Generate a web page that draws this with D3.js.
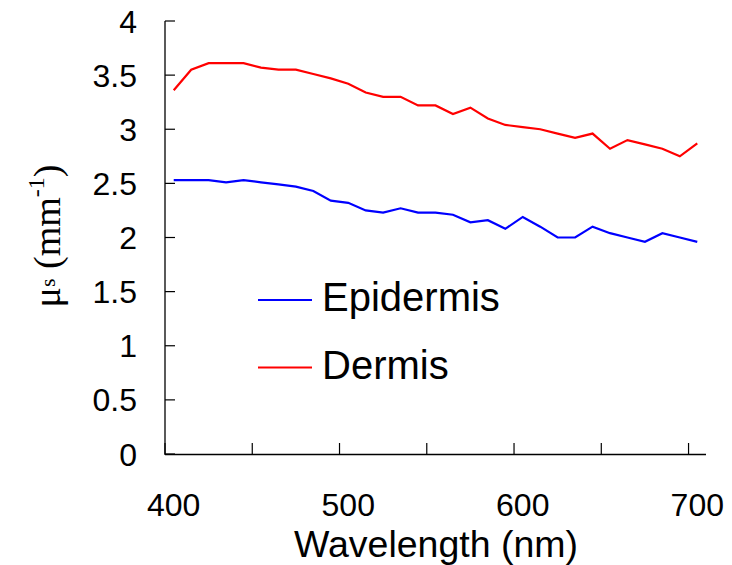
<!DOCTYPE html>
<html>
<head>
<meta charset="utf-8">
<script src="https://cdn.jsdelivr.net/npm/d3@7"></script>
<style>
html,body{margin:0;padding:0;background:#fff;}
svg{display:block;}
</style>
</head>
<body>
<svg id="chart" width="732" height="565"></svg>
<script>
const wavelengths = [400,410,420,430,440,450,460,470,480,490,500,510,520,530,540,550,560,570,580,590,600,610,620,630,640,650,660,670,680,690,700];
const dermis = [3.36,3.55,3.61,3.61,3.61,3.57,3.55,3.55,3.51,3.47,3.42,3.34,3.30,3.30,3.22,3.22,3.14,3.20,3.10,3.04,3.02,3.00,2.96,2.92,2.96,2.82,2.90,2.86,2.82,2.75,2.87];
const epidermis = [2.53,2.53,2.53,2.51,2.53,2.51,2.49,2.47,2.43,2.34,2.32,2.25,2.23,2.27,2.23,2.23,2.21,2.14,2.16,2.08,2.19,2.10,2.00,2.00,2.10,2.04,2.00,1.96,2.04,2.00,1.96];
const xTickLabels = [400,500,600,700];
const yTickValues = [0,0.5,1,1.5,2,2.5,3,3.5,4];
const yTickLabels = ["0","0.5","1","1.5","2","2.5","3","3.5","4"];
const seriesNames = ["Epidermis","Dermis"];
const seriesColors = ["#0000ff","#ff0000"];

const svg = d3.select("#chart");
const x = d3.scaleLinear().domain([395,705]).range([165,706]);
const y = d3.scaleLinear().domain([0,4]).range([454,21]);
const font = "Arial, 'Liberation Sans', sans-serif";

// axes lines
svg.append("line").attr("x1",x(395)).attr("x2",x(705)).attr("y1",y(0)+0.5).attr("y2",y(0)+0.5)
  .attr("stroke","#000").attr("stroke-width",1.3);
svg.append("line").attr("x1",x(395)).attr("x2",x(395)).attr("y1",y(4)).attr("y2",y(0)+1)
  .attr("stroke","#000").attr("stroke-width",1.3);

// y ticks (inward)
svg.selectAll(".yt").data(yTickValues).enter().append("line")
  .attr("x1",x(395)).attr("x2",x(395)+10)
  .attr("y1",d=>y(d)).attr("y2",d=>y(d))
  .attr("stroke","#000").attr("stroke-width",1.2);
svg.selectAll(".yl").data(yTickValues).enter().append("text")
  .attr("x",137).attr("y",d=>y(d)).attr("dy","0.36em")
  .attr("text-anchor","end").attr("font-family",font).attr("font-size",32)
  .text((d,i)=>yTickLabels[i]);

// x ticks (inward) between categories
const xTickPos = [395,445,495,545,595,645,695];
svg.selectAll(".xt").data(xTickPos).enter().append("line")
  .attr("x1",d=>x(d)).attr("x2",d=>x(d))
  .attr("y1",y(0)).attr("y2",y(0)-11)
  .attr("stroke","#000").attr("stroke-width",1.2);
svg.selectAll(".xl").data(xTickLabels).enter().append("text")
  .attr("x",d=>x(d)).attr("y",516)
  .attr("text-anchor","middle").attr("font-family",font).attr("font-size",32)
  .text(d=>d);

// x title
svg.append("text").attr("x",436).attr("y",556.5).attr("text-anchor","middle")
  .attr("font-family",font).attr("font-size",37.5).text("Wavelength (nm)");

// y title
const yt = svg.append("text").attr("transform","translate(60,236) rotate(-90)")
  .attr("text-anchor","middle").attr("font-family","'Liberation Serif','Times New Roman',serif")
  .attr("font-size",38);
yt.append("tspan").text("\u03bc");
yt.append("tspan").attr("font-size",22).attr("dy",-5).text("s");
yt.append("tspan").attr("dy",5).text(" (mm");
yt.append("tspan").attr("font-size",24).attr("dy",-16).text("-1");
yt.append("tspan").attr("dy",16).text(")");

// lines
const line = d3.line().x((d,i)=>x(wavelengths[i])).y(d=>y(d));
[epidermis, dermis].forEach((s,k)=>{
  svg.append("path").datum(s).attr("d",line).attr("fill","none")
    .attr("stroke",seriesColors[k]).attr("stroke-width",2.2).attr("stroke-linejoin","miter");
});

// legend
const legY = [300,367.5];
seriesNames.forEach((n,k)=>{
  svg.append("line").attr("x1",258).attr("x2",312).attr("y1",legY[k]).attr("y2",legY[k])
    .attr("stroke",seriesColors[k]).attr("stroke-width",2.2);
  svg.append("text").attr("x",322).attr("y",legY[k]+10.7+0.3)
    .attr("font-family",font).attr("font-size",40).text(n);
});
</script>
</body>
</html>
